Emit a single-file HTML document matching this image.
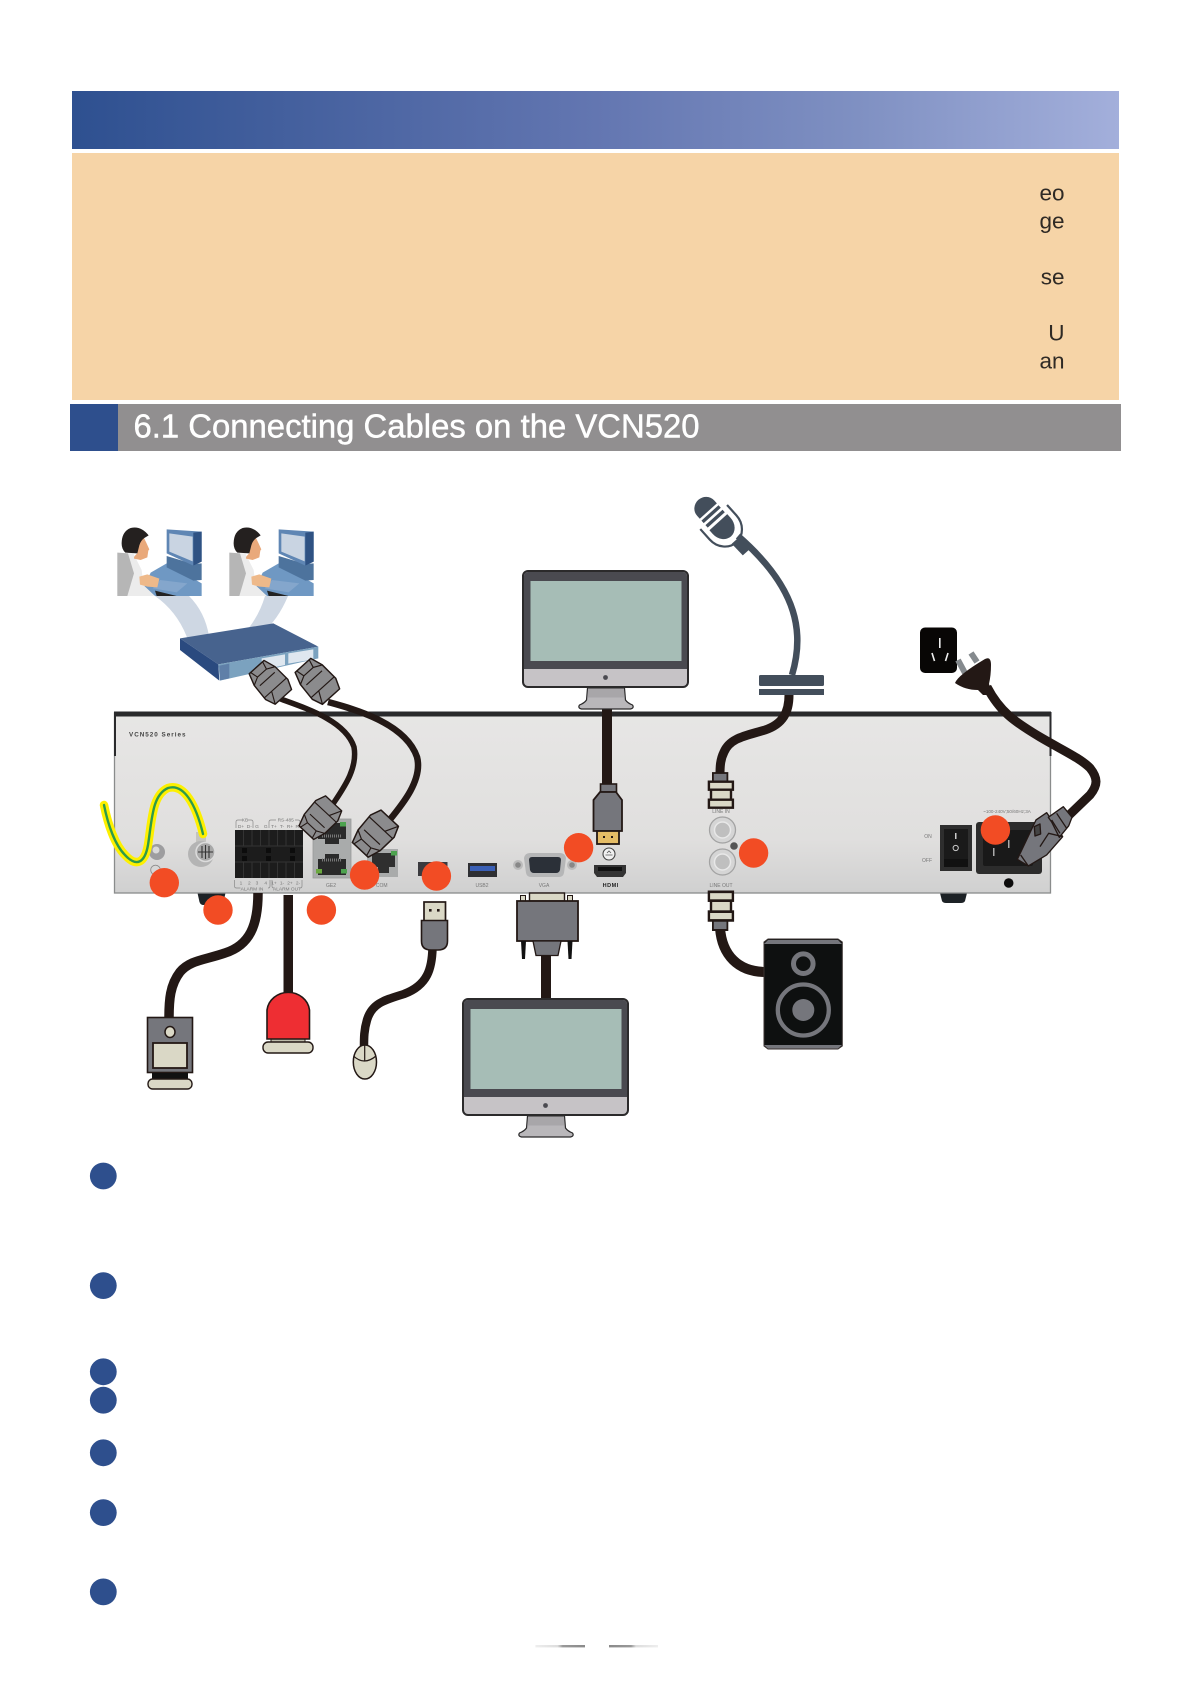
<!DOCTYPE html>
<html><head><meta charset="utf-8"><style>html,body{margin:0;padding:0;background:#fff}svg{display:block}text{font-family:"Liberation Sans",sans-serif}</style></head><body>
<svg xmlns="http://www.w3.org/2000/svg" width="1192" height="1685" viewBox="0 0 1192 1685">
<defs>
<linearGradient id="hd" x1="0" x2="1" y1="0" y2="0"><stop offset="0" stop-color="#2e5090"/><stop offset=".5" stop-color="#6376b1"/><stop offset=".75" stop-color="#7f90c2"/><stop offset="1" stop-color="#a3afdb"/></linearGradient>
<linearGradient id="ch" x1="0" x2="0" y1="0" y2="1"><stop offset="0" stop-color="#e7e6e5"/><stop offset=".7" stop-color="#e0dfde"/><stop offset="1" stop-color="#d0d0d0"/></linearGradient>
<linearGradient id="m1" x1="0" x2="1"><stop offset="0" stop-color="#eee"/><stop offset=".45" stop-color="#ddd"/><stop offset=".55" stop-color="#999"/><stop offset="1" stop-color="#8a8a8a"/></linearGradient>
<linearGradient id="m2" x1="0" x2="1"><stop offset="0" stop-color="#8a8a8a"/><stop offset=".45" stop-color="#999"/><stop offset=".55" stop-color="#ddd"/><stop offset="1" stop-color="#eee"/></linearGradient>
<g id="person" transform="translate(110,520) scale(.3333)">
<polygon points="122,158 170,130 275,190 275,228 135,228 100,205" fill="#6f98c3"/>
<polygon points="170,108 250,132 275,130 275,180 250,182 170,142" fill="#4d739d"/>
<polygon points="170,28 275,35 275,125 250,137 170,100" fill="#5f86b4"/>
<polygon points="250,38 275,35 275,125 250,137" fill="#2f5283"/>
<polygon points="178,40 248,50 248,124 178,95" fill="#c9d4e2"/>
<polygon points="150,180 232,190 200,217 128,205" fill="#84a6cc"/>
<polygon points="135,212 200,228 140,228" fill="#222"/>
<polygon points="22,98 70,100 95,150 100,195 135,228 22,228" fill="#ececec"/>
<polygon points="22,98 54,100 72,160 52,228 22,228" fill="#b6b6b6"/>
<polygon points="88,170 112,163 148,176 142,202 112,200 90,194" fill="#eeb98a"/>
<path d="M82,100 Q70,110 72,116 L92,120 L112,112 L115,92 L118,88 Q110,70 100,50 L84,60Z" fill="#e9a97b"/>
<path d="M35,68 Q36,34 62,24 Q92,16 116,46 L103,54 Q92,62 88,76 L82,100 L46,98 Q34,86 35,68Z" fill="#24201f"/>
</g>
<g id="rj">
<polygon points="-10,-20 10,-20 14,-8 15,10 11,20 -11,20 -15,10 -14,-8" fill="#8b8b8d" stroke="#231815" stroke-width="1.4" stroke-linejoin="round"/>
<path d="M-14,-8 L-6,-12 L6,-12 L14,-8 M-15,8 L15,8 M-10,-4 L10,-4 M-8,-20 L-6,-12 M8,-20 L6,-12 M-5,8 L-11,20" fill="none" stroke="#231815" stroke-width="1.1"/>
</g>
<g id="bnc">
<rect x="4.6" y="0" width="14.5" height="9" fill="#75767c" stroke="#231815" stroke-width="1.8"/>
<rect x="0.6" y="8.7" width="24" height="8" fill="#dad8c6" stroke="#231815" stroke-width="2.4"/>
<rect x="2.7" y="16.7" width="20" height="10" fill="#dad8c6" stroke="#231815" stroke-width="2.4"/>
<rect x="0.6" y="26.7" width="24" height="8" fill="#dad8c6" stroke="#231815" stroke-width="2.4"/>
</g>
<g id="mon">
<rect x="0" y="0" width="165" height="116" rx="5" fill="#c6c3c6" stroke="#2b2a2b" stroke-width="2"/>
<path d="M1,5 a4,4 0 0 1 4,-4 h155 a4,4 0 0 1 4,4 v93 h-163z" fill="#4a4a50"/>
<rect x="7.5" y="10" width="151" height="80" fill="#a6bdb6"/>
<circle cx="82.5" cy="106.5" r="2.4" fill="#4a4a50"/>
<path d="M64.5,117 h37 l1,12 q2,3 7,5 q2,3 -2,4 h-49 q-4,-1 -2,-4 q5,-2 7,-5z" fill="#b9b7ba" stroke="#2b2a2b" stroke-width="1.2"/>
<rect x="65" y="117.5" width="36" height="9" fill="#a8a6a9"/>
</g>
<g id="tb">
<rect x="235" y="830" width="68" height="48" fill="#1c1c1c"/>
<path d="M235,846 h68 M235,862 h68 M243.5,830 v16 M252,830 v16 M260.5,830 v16 M269,830 v16 M277.5,830 v16 M286,830 v16 M294.5,830 v16 M243.5,862 v16 M252,862 v16 M260.5,862 v16 M269,862 v16 M277.5,862 v16 M286,862 v16 M294.5,862 v16" stroke="#333" stroke-width="1"/>
<g fill="#0c0c0c"><rect x="242" y="848" width="5" height="5"/><rect x="266" y="848" width="5" height="5"/><rect x="290" y="848" width="5" height="5"/><rect x="242" y="856" width="5" height="5"/><rect x="266" y="856" width="5" height="5"/><rect x="290" y="856" width="5" height="5"/></g>
</g>
</defs>
<rect width="1192" height="1685" fill="#fff"/>
<rect x="72" y="91" width="1047" height="58" fill="url(#hd)"/>
<rect x="72" y="153" width="1047" height="247" fill="#f6d4a7"/>
<g font-size="22.5" fill="#2f2a25" text-anchor="end">
<text x="1064.5" y="200.5">eo</text><text x="1064.5" y="228.5">ge</text><text x="1064.5" y="284.5">se</text><text x="1064.5" y="340.5">U</text><text x="1064.5" y="368.5">an</text>
</g>
<rect x="70" y="404" width="48" height="47" fill="#2e4f8d"/>
<rect x="118" y="404" width="1003" height="47" fill="#918f90"/>
<text x="133.5" y="437.5" font-size="33" fill="#fff" stroke="#fff" stroke-width=".45" textLength="566" lengthAdjust="spacingAndGlyphs">6.1 Connecting Cables on the VCN520</text>

<!-- feet -->
<path d="M197.5,893 h28 l-2,9 q-1,3 -4,3 h-16 q-3,0 -4,-3z" fill="#1d2226"/>
<path d="M940,893 h27 l-2,8 q-1,2 -4,2 h-15 q-3,0 -4,-2z" fill="#1d2226"/>

<!-- chassis -->
<rect x="114.5" y="713" width="936" height="180" fill="url(#ch)" stroke="#8a8c8c" stroke-width="1.3"/>
<rect x="114" y="711.5" width="937" height="5" fill="#2a2a2c"/>
<rect x="114" y="712" width="2" height="44" fill="#2a2a2c"/>
<rect x="1049.5" y="712" width="2" height="44" fill="#2a2a2c"/>
<text x="129" y="736.5" font-size="6.3" font-weight="bold" fill="#444" letter-spacing="1">VCN520 Series</text>

<!-- rear left -->
<circle cx="157" cy="852" r="8" fill="#9d9d9f"/><circle cx="156" cy="850" r="3.5" fill="#d9d9d9"/>
<circle cx="155.5" cy="870" r="4.8" fill="none" stroke="#8b8b8b" stroke-width=".9"/>
<rect x="196" y="832" width="10" height="14" fill="#c4c4c0"/>
<circle cx="201" cy="854" r="13" fill="#b4b4b4"/>
<circle cx="205.5" cy="852" r="9.5" fill="#a8a8a8" stroke="#dcdcdc" stroke-width="1.5"/>
<path d="M198,852 h15 M205.5,845 v14 M202,846 v12 M209,846 v12" stroke="#333" stroke-width="1.1"/>
<path d="M104,805 C108,825 115,845 125,855 C137,868 145,862 148,845 C152,820 152,795 168,788 C184,783 196,805 203,834" fill="none" stroke="#fdf000" stroke-width="8.5" stroke-linecap="round"/>
<path d="M104,805 C108,825 115,845 125,855 C137,868 145,862 148,845 C152,820 152,795 168,788 C184,783 196,805 203,834" fill="none" stroke="#2d9a4b" stroke-width="2.4" stroke-linecap="round"/>

<!-- labels alarm -->
<use href="#tb"/>
<g font-size="4.8" fill="#777" text-anchor="middle">
<text x="245" y="821.5">KB</text><text x="285.7" y="821.5">RS-485</text>
<text x="241" y="828">D+</text><text x="249.3" y="828">D-</text><text x="257" y="828">G</text><text x="265.7" y="828">G</text><text x="274" y="828">T+</text><text x="282" y="828">T-</text><text x="290" y="828">R+</text><text x="298" y="828">R-</text>
<text x="241" y="884.5">1</text><text x="249.3" y="884.5">2</text><text x="257" y="884.5">3</text><text x="265.7" y="884.5">4</text><text x="274" y="884.5">1+</text><text x="282" y="884.5">1-</text><text x="290" y="884.5">2+</text><text x="298" y="884.5">2-</text>
<text x="252" y="890.5">ALARM IN</text><text x="287" y="890.5">ALARM OUT</text>
</g>
<path d="M236,828 v-6 q0,-2 2,-2 h4 M248,820 h3 q2,0 2,2 v6 M269,828 v-6 q0,-2 2,-2 h5 M295,820 h3 q2,0 2,2 v6 M234.5,880 v6 q0,2 2,2 h4 M270,880 v6 q0,2 -2,2 M272,880 v6 q0,2 2,2 M302,880 v6 q0,2 -2,2" fill="none" stroke="#888" stroke-width=".7"/>

<!-- GE ports -->
<rect x="313" y="819" width="38" height="59" fill="#a9abab" stroke="#999" stroke-width=".8"/>
<path d="M318,823 h28 v16 h-7 v5 h-14 v-5 h-7z" fill="#2a2a2a"/>
<path d="M318,875 h28 v-16 h-7 v-5 h-14 v5 h-7z" fill="#2a2a2a"/>
<path d="M322,836 h20 M322,860 h20" stroke="#777" stroke-width="3" stroke-dasharray="1 1"/>
<rect x="340" y="822" width="6" height="4.5" fill="#4da34f"/><rect x="316" y="869" width="6" height="4.5" fill="#6aa83f"/><rect x="341" y="869" width="6" height="4.5" fill="#4da34f"/>
<rect x="367" y="849" width="31" height="28" fill="#a9abab"/>
<path d="M372,853 h23 v14 h-6 v6 h-11 v-6 h-6z" fill="#2f2f2f"/>
<rect x="391" y="851" width="6" height="4.5" fill="#4da34f"/>
<g font-size="5" fill="#777" text-anchor="middle"><text x="331" y="887">GE2</text><text x="381.7" y="887">COM</text><text x="482" y="887">USB2</text><text x="544" y="887">VGA</text><text x="721" y="813">LINE IN</text><text x="721" y="887">LINE OUT</text>
<text x="1007" y="813" font-size="4.6">~100-240V;50/60Hz;3A</text><text x="928" y="838" font-size="5">ON</text><text x="927" y="862" font-size="5">OFF</text></g>
<text x="610.7" y="887" font-size="5.5" font-weight="bold" fill="#222" text-anchor="middle" letter-spacing=".5">HDMI</text>

<!-- USB + VGA + HDMI ports -->
<rect x="418" y="862" width="29.5" height="14" fill="#3a3a3e"/>
<rect x="468" y="863" width="29" height="14" fill="#2e2f33"/><rect x="470" y="866" width="25" height="5" fill="#3a5fb5"/>
<circle cx="518" cy="865" r="5" fill="#bbb"/><circle cx="518" cy="865" r="2.8" fill="#888"/>
<circle cx="572" cy="865" r="5" fill="#bbb"/><circle cx="572" cy="865" r="2.8" fill="#888"/>
<path d="M530,853 h30 q5,0 6,5 l-2,15 q-1,4 -5,4 h-28 q-4,0 -5,-4 l-2,-15 q1,-5 6,-5z" fill="#b5b6b7"/>
<path d="M532,857 h26 q3,0 3,3 l-1,10 q-1,3 -4,3 h-22 q-3,0 -4,-3 l-1,-10 q0,-3 3,-3z" fill="#2b3038"/>
<circle cx="609" cy="854" r="6" fill="#f0f0f0" stroke="#444" stroke-width="1.1"/><path d="M605.5,855 h7 M607,853 l2,-2 l2,2" stroke="#555" stroke-width=".8" fill="none"/>
<path d="M594,865 h32 v8 l-3,4 h-26 l-3,-4z" fill="#333"/><rect x="598" y="867" width="24" height="4" fill="#111"/>

<!-- RCA -->
<g fill="#d5d5d5" stroke="#a3a3a3" stroke-width="1.3"><circle cx="722.5" cy="830" r="13"/><circle cx="722.5" cy="862" r="13"/></g>
<g fill="#bfbfbf" stroke="#e8e8e8" stroke-width="1.5"><circle cx="722.5" cy="830" r="8"/><circle cx="722.5" cy="862" r="8"/></g>
<circle cx="734" cy="846" r="3.8" fill="#555"/>

<!-- power -->
<rect x="940" y="825" width="32" height="46" fill="#2e2e2e"/><rect x="944" y="829" width="24" height="30" fill="#1a1a1a"/><rect x="944" y="859" width="24" height="8" fill="#111"/>
<rect x="955" y="833" width="1.5" height="6" fill="#ccc"/><circle cx="955.7" cy="848" r="2.6" fill="none" stroke="#ccc" stroke-width="1"/>
<rect x="976" y="822" width="66" height="52" rx="3" fill="#2c2c2c"/>
<rect x="983" y="830" width="50" height="36" rx="2" fill="#191919"/>
<rect x="993" y="848" width="1.5" height="8" fill="#aaa"/><rect x="1008" y="840" width="1.5" height="8" fill="#aaa"/>
<circle cx="1008.7" cy="883" r="4.8" fill="#0c0c0c"/>

<!-- ribbons to switch -->
<path d="M155,596 L189,596 Q205,612 209,636 L188,640 Q178,612 155,596Z" fill="#ced7e3"/>
<path d="M265,596 L288,596 Q278,620 262,633 L240,638 Q258,620 265,596Z" fill="#ced7e3"/>
<use href="#person"/><use href="#person" x="112"/>

<!-- switch -->
<g transform="translate(170,615) scale(.3333)">
<polygon points="30,70 310,25 445,95 145,148" fill="#47638e"/>
<polygon points="30,70 145,148 148,197 30,105" fill="#2a4a7f"/>
<polygon points="145,148 445,95 445,130 150,197" fill="#7ba2bf"/>
<polygon points="148,152 178,146 178,190 150,196" fill="#5f7fa8"/>
<polygon points="275,130 345,118 345,150 275,165" fill="#dfe7ef"/>
<polygon points="355,115 430,103 430,133 355,146" fill="#dfe7ef"/>
</g>

<!-- monitor top -->
<rect x="602" y="705" width="10" height="80" fill="#231815"/>
<use href="#mon" transform="translate(523,571)"/>
<!-- HDMI plug -->
<rect x="600.5" y="784" width="16" height="8" fill="#75767c" stroke="#231815" stroke-width="1.6"/>
<path d="M593.5,800 L600,792 H616 L622,800 V831 H593.5Z" fill="#75767c" stroke="#231815" stroke-width="1.8"/>
<rect x="597" y="831" width="22" height="13" fill="#e6bd66" stroke="#231815" stroke-width="1.8"/>
<rect x="603" y="836" width="2" height="2" fill="#231815"/><rect x="611" y="836" width="2" height="2" fill="#231815"/>

<!-- mic -->
<path d="M792,675 C804,635 800,590 738,536" fill="none" stroke="#434e5b" stroke-width="6.5"/>
<g transform="translate(715,518.5) rotate(-42)" fill="#434e5b">
<path d="M-11.5,-10 V-14 A11.5,11 0 0 1 11.5,-14 V-10Z"/>
<rect x="-11.5" y="-7.5" width="23" height="3.4"/><rect x="-11.5" y="-1.5" width="23" height="3.4"/>
<path d="M-12,5 H12 V10 A12,14 0 0 1 -12,10Z"/>
<path d="M-18,-2 L-18,12 A18,20 0 0 0 18,12 L18,-2" fill="none" stroke="#434e5b" stroke-width="2.2"/>
<path d="M-4.5,30 H4.5 L4,46 H-4Z"/>
</g>
<rect x="759" y="675" width="65" height="11" rx="1.5" fill="#434e5b"/>
<rect x="759" y="689" width="65" height="6" fill="#434e5b"/>

<!-- line in cable -->
<path d="M789,695 C789,712 783,724 765,730 C745,736 730,738 724,752 C720,760 720,768 720,775" fill="none" stroke="#231815" stroke-width="9"/>
<use href="#bnc" transform="translate(708.3,773)"/>
<!-- line out -->
<path d="M720,928 C722,955 738,972 766,972" fill="none" stroke="#231815" stroke-width="10"/>
<use href="#bnc" transform="translate(708.3,930) scale(1,-1.1)"/>
<!-- speaker -->
<path d="M768,939 h70 l4.3,3 v104 l-4.3,3 h-70 l-4,-3 v-104z" fill="#0e1010" stroke="#3a3231" stroke-width="1"/>
<polygon points="768,940 838,940 842,944 764,944" fill="#75767c"/><polygon points="764,1045 842,1045 838,1048.5 768,1048.5" fill="#75767c"/>
<circle cx="803.3" cy="963.7" r="9.8" fill="none" stroke="#75767c" stroke-width="5"/>
<circle cx="803.3" cy="1010" r="25.5" fill="none" stroke="#75767c" stroke-width="4.3"/>
<circle cx="803.3" cy="1010" r="11" fill="#75767c"/>

<!-- RJ45 cables -->
<path d="M278,698 C305,708 345,720 354,747 C358,770 342,790 331,807" fill="none" stroke="#231815" stroke-width="5.5"/>
<path d="M328,702 C350,708 405,722 417,757 C423,780 402,805 388,822" fill="none" stroke="#231815" stroke-width="6.5"/>
<use href="#rj" transform="translate(270,682) rotate(-42)"/>
<use href="#rj" transform="translate(317,681) rotate(-42) scale(1.05)"/>
<use href="#rj" transform="translate(320,818) rotate(-137)"/>
<use href="#rj" transform="translate(375,834) rotate(-137) scale(1.08)"/>

<!-- alarm in -->
<path d="M258,893 C258,925 250,945 225,953 C205,960 190,960 180,972 C170,985 169,1000 169,1018" fill="none" stroke="#231815" stroke-width="9.5"/>
<rect x="147.5" y="1017.5" width="45" height="55" fill="#75767c" stroke="#231815" stroke-width="1.6"/>
<ellipse cx="170" cy="1032" rx="5" ry="5.5" fill="#dad8c6" stroke="#231815" stroke-width="1.5"/>
<rect x="153" y="1043" width="34" height="25" fill="#dad8c6" stroke="#231815" stroke-width="1.8"/>
<rect x="152" y="1073" width="36" height="6" fill="#111"/>
<rect x="148" y="1079" width="44" height="10" rx="4.5" fill="#dad8c6" stroke="#231815" stroke-width="1.4"/>
<!-- alarm out -->
<rect x="283.5" y="895" width="9.5" height="98" fill="#231815"/>
<rect x="271" y="1038" width="34" height="5" fill="#bdbbaa" stroke="#231815"/>
<path d="M267,1039 V1010 A21.4,20 0 0 1 309.5,1010 V1039Z" fill="#ee2e33" stroke="#231815" stroke-width="1.6"/>
<rect x="263" y="1042" width="50" height="11" rx="5" fill="#dad8c6" stroke="#231815" stroke-width="1.4"/>
<!-- mouse -->
<path d="M432.5,948 C432,968 428,985 404,994 C385,1000 372,1003 367,1020 C364,1030 364,1038 364,1046" fill="none" stroke="#231815" stroke-width="8.5"/>
<rect x="424" y="902" width="21.5" height="19" fill="#dad8c6" stroke="#231815" stroke-width="1.7"/>
<rect x="429" y="909" width="2.6" height="2.6" fill="#231815"/><rect x="437" y="909" width="2.6" height="2.6" fill="#231815"/>
<path d="M421.5,920.5 H447.5 V941 Q447.5,950 438,950 H431 Q421.5,950 421.5,941Z" fill="#75767c" stroke="#231815" stroke-width="1.6"/>
<ellipse cx="364.9" cy="1062" rx="11.6" ry="17" fill="#dad8c6" stroke="#231815" stroke-width="1.5"/>
<path d="M353.5,1056 Q364,1066 376,1056 M364.7,1045 V1061" fill="none" stroke="#231815" stroke-width="1.2"/>
<!-- VGA -->
<rect x="541" y="955" width="10" height="46" fill="#231815"/>
<rect x="529.5" y="893" width="35" height="8" fill="#dad8c6" stroke="#231815" stroke-width="1.4"/>
<rect x="520.5" y="895.5" width="5" height="5.5" fill="#dad8c6" stroke="#231815"/><rect x="567.5" y="895.5" width="5" height="5.5" fill="#dad8c6" stroke="#231815"/>
<rect x="517" y="901" width="61" height="40" fill="#75767c" stroke="#231815" stroke-width="1.8"/>
<polygon points="533,941 561,941 558,955.5 536,955.5" fill="#75767c" stroke="#231815" stroke-width="1.3"/>
<polygon points="521,941 526,941 525,959 522,959" fill="#111"/><polygon points="567.5,941 572.5,941 571.5,959 568.5,959" fill="#111"/>
<use href="#mon" transform="translate(463,999)"/>

<!-- power cord -->
<path d="M987,687 C1000,712 1015,722 1040,737 C1062,750 1080,758 1090,768 C1098,778 1098,785 1090,795 L1064,820" fill="none" stroke="#231815" stroke-width="9"/>
<rect x="920" y="627.5" width="37" height="45.5" rx="5" fill="#080605"/>
<rect x="939" y="638" width="1.6" height="10" fill="#eee"/>
<path d="M932,653 l2.5,8 M948,653 l-2.5,8" stroke="#eee" stroke-width="1.6"/>
<path d="M958,660 L965,673 M971,653 L977,662" stroke="#858a8e" stroke-width="6"/>
<path d="M955,683 Q958,675 985,659 Q991,656 991,665 Q991,675 989,684 L993,695 L983,695 L978,690 Q965,690 955,683Z" fill="#231815"/>
<g transform="translate(900,620) scale(.3333)" stroke="#231815" stroke-width="4" fill="#75767c" stroke-linejoin="round">
<path d="M352,718 L408,600 L440,578 L455,600 L488,650 L440,705 L385,738Z"/>
<path d="M445,592 L490,560 L516,592 L506,618 L478,652 L455,606Z"/>
<path d="M403,620 L420,612 L422,642 L405,648Z" fill="#444"/>
<path d="M362,705 L385,738 M420,680 L446,640 L488,650 M455,600 L480,640 M470,580 L500,625" fill="none"/>
</g>

<!-- bottom marks -->
<rect x="535.4" y="1645" width="49.6" height="2.4" fill="url(#m1)"/>
<rect x="609" y="1645" width="49" height="2.4" fill="url(#m2)"/>

<!-- red circles -->
<g fill="#f24c24">
<circle cx="164.3" cy="882.7" r="14.7"/><circle cx="218" cy="910" r="14.7"/><circle cx="321.4" cy="910" r="14.7"/><circle cx="364.6" cy="875" r="14.7"/><circle cx="436.4" cy="876" r="14.7"/><circle cx="578.6" cy="847.7" r="14.7"/><circle cx="753.6" cy="853" r="14.7"/><circle cx="995.4" cy="830" r="14.7"/>
</g>
<!-- blue circles -->
<g fill="#2e4f8d">
<circle cx="103.3" cy="1176" r="13.4"/><circle cx="103.3" cy="1285.6" r="13.4"/><circle cx="103.3" cy="1371.8" r="13.4"/><circle cx="103.3" cy="1400.2" r="13.4"/><circle cx="103.3" cy="1452.8" r="13.4"/><circle cx="103.3" cy="1512.6" r="13.4"/><circle cx="103.3" cy="1591.9" r="13.4"/>
</g>
</svg>
</body></html>
